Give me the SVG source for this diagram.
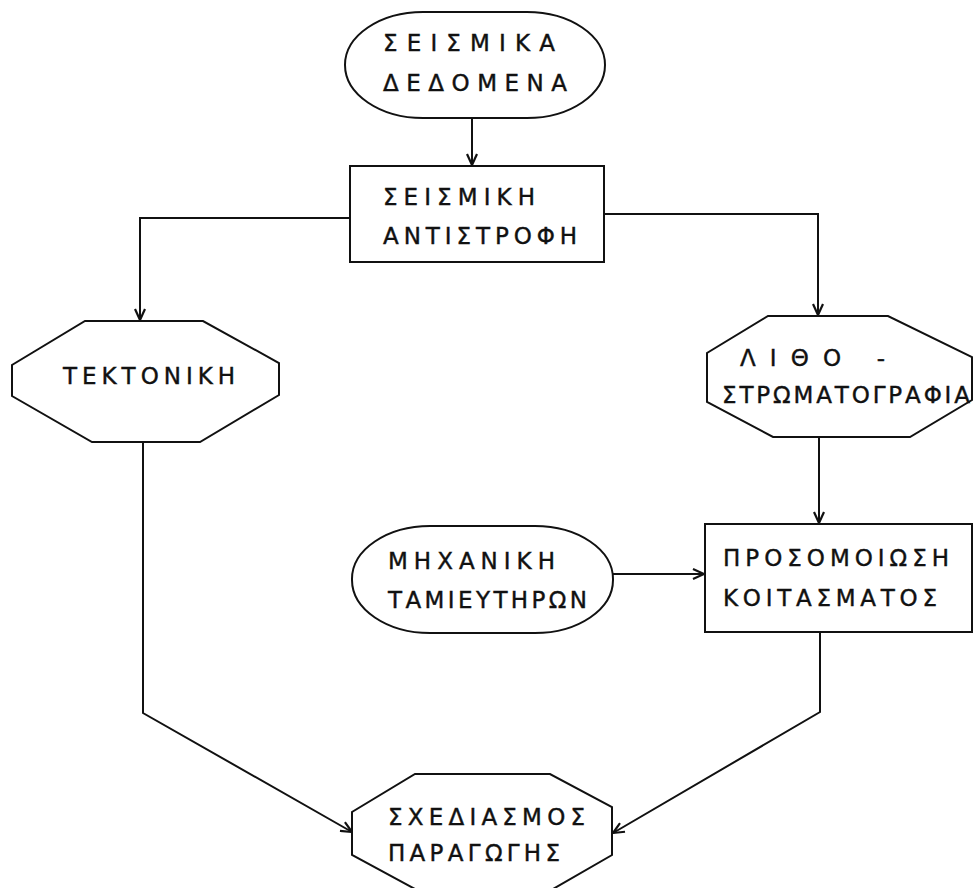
<svg xmlns="http://www.w3.org/2000/svg" width="974" height="888" viewBox="0 0 974 888">
<style>
.shape{fill:#fff;stroke:#111;stroke-width:2}
.t{font-family:"DejaVu Sans","Liberation Sans",sans-serif;font-size:23px;fill:#111;stroke:#111;stroke-width:0.4}
.c{fill:none;stroke:#111;stroke-width:2}
</style>
<defs>
<marker id="ah" markerUnits="userSpaceOnUse" markerWidth="14" markerHeight="12" viewBox="-12 -6 14 12" refX="0" refY="0" orient="auto">
<path d="M-11,-5 L0,0 L-11,5" fill="none" stroke="#111" stroke-width="2.2"/>
</marker>
</defs>
<rect width="974" height="888" fill="#fff"/>
<g id="connectors">
<path class="c" d="M472,118 V165" marker-end="url(#ah)"/>
<path class="c" d="M350,218 H140 V320" marker-end="url(#ah)"/>
<path class="c" d="M604,214 H818 V315" marker-end="url(#ah)"/>
<path class="c" d="M819,437 V523" marker-end="url(#ah)"/>
<path class="c" d="M613,574 H704" marker-end="url(#ah)"/>
<path class="c" d="M143,442 V713 L352,832" marker-end="url(#ah)"/>
<path class="c" d="M820,632 V712 L613,833" marker-end="url(#ah)"/>
</g>
<g id="seismika-dedomena">
<rect class="shape" x="345" y="12" width="260" height="106" rx="78" ry="53"/>
<text class="t" x="383" y="51" textLength="172" lengthAdjust="spacing">ΣΕΙΣΜΙΚΑ</text>
<text class="t" x="383" y="91" textLength="184" lengthAdjust="spacing">ΔΕΔΟΜΕΝΑ</text>
</g>
<g id="seismiki-antistrofi">
<rect class="shape" x="350" y="166" width="254" height="96"/>
<text class="t" x="383" y="205" textLength="152" lengthAdjust="spacing">ΣΕΙΣΜΙΚΗ</text>
<text class="t" x="383" y="244" textLength="194" lengthAdjust="spacing">ΑΝΤΙΣΤΡΟΦΗ</text>
</g>
<g id="tektoniki">
<polygon class="shape" points="85,321 203,321 279,363 279,395 200,442 92,442 12,396 12,365"/>
<text class="t" x="63" y="384" textLength="172" lengthAdjust="spacing">ΤΕΚΤΟΝΙΚΗ</text>
</g>
<g id="lithostromatografia">
<polygon class="shape" points="768,316 888,316 972,357 972,400 910,437 773,437 707,402 707,353"/>
<text class="t" x="740" y="366" textLength="145" lengthAdjust="spacing">ΛΙΘΟ -</text>
<text class="t" x="722" y="403" textLength="248" lengthAdjust="spacing">ΣΤΡΩΜΑΤΟΓΡΑΦΙΑ</text>
</g>
<g id="michaniki-tamieftiron">
<rect class="shape" x="352" y="526" width="261" height="107" rx="78" ry="53"/>
<text class="t" x="388" y="569" textLength="167" lengthAdjust="spacing">ΜΗΧΑΝΙΚΗ</text>
<text class="t" x="388" y="608" textLength="199" lengthAdjust="spacing">ΤΑΜΙΕΥΤΗΡΩΝ</text>
</g>
<g id="prosomoiosi-koitasmatos">
<rect class="shape" x="705" y="524" width="267" height="108"/>
<text class="t" x="723" y="566" textLength="226" lengthAdjust="spacing">ΠΡΟΣΟΜΟΙΩΣΗ</text>
<text class="t" x="723" y="606" textLength="214" lengthAdjust="spacing">ΚΟΙΤΑΣΜΑΤΟΣ</text>
</g>
<g id="schediasmos-paragogis">
<polygon class="shape" points="415,774 550,774 612,807 612,855 553,889 415,889 352,855 352,812"/>
<text class="t" x="388" y="825" textLength="197" lengthAdjust="spacing">ΣΧΕΔΙΑΣΜΟΣ</text>
<text class="t" x="388" y="861" textLength="172" lengthAdjust="spacing">ΠΑΡΑΓΩΓΗΣ</text>
</g>
</svg>
